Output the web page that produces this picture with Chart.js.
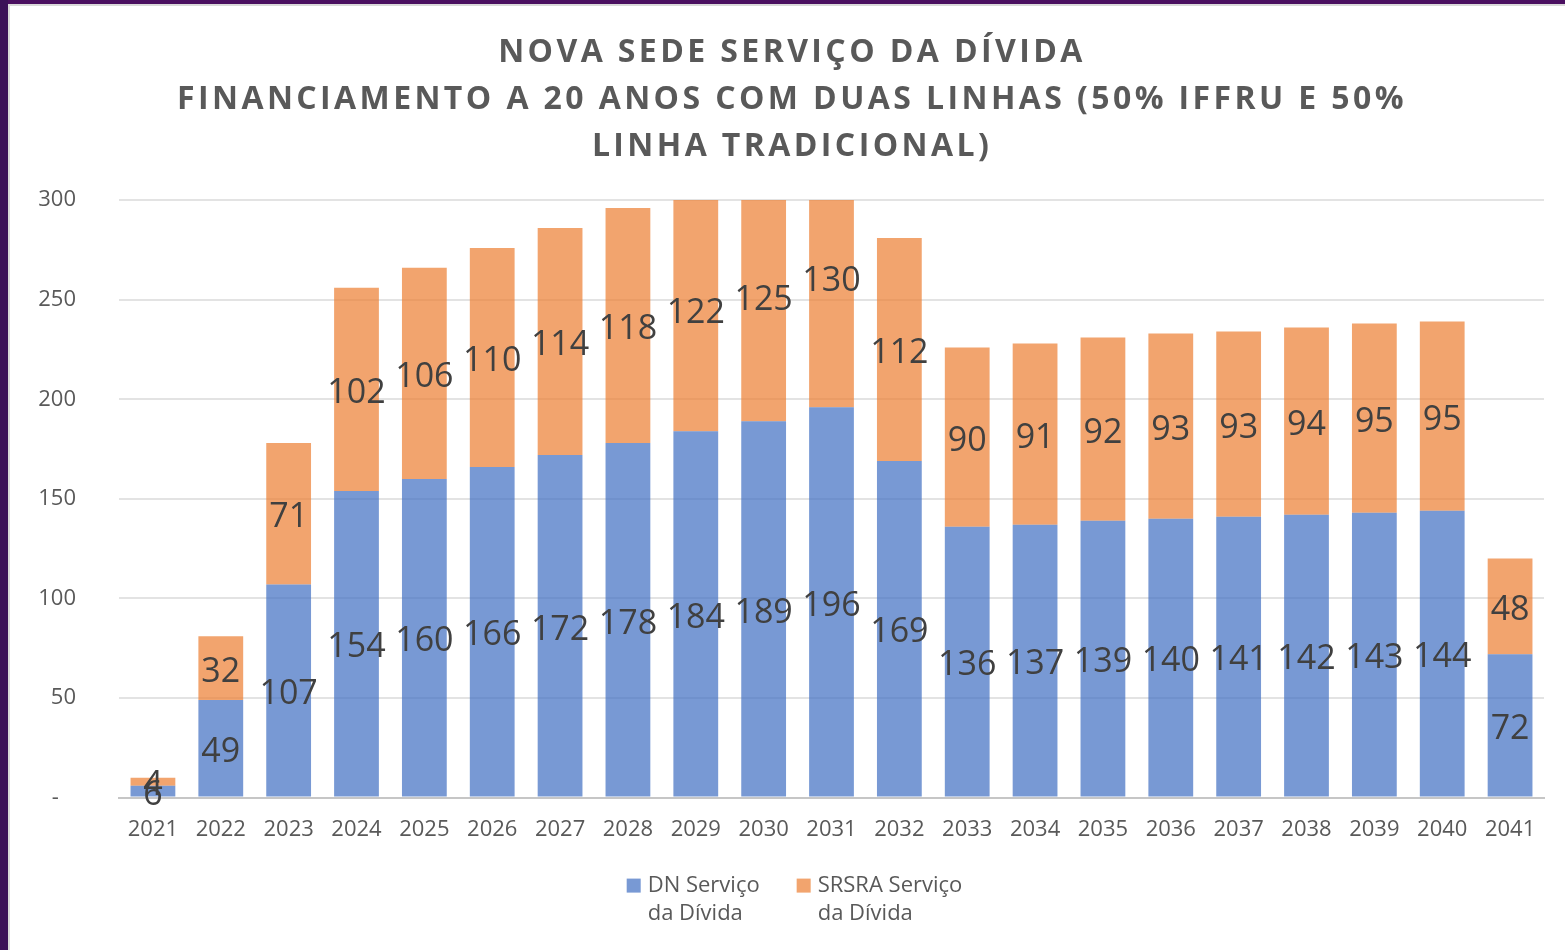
<!DOCTYPE html>
<html>
<head>
<meta charset="utf-8">
<script src="https://cdn.jsdelivr.net/npm/chart.js@4/dist/chart.umd.min.js"></script>
<style>
  html, body { margin: 0; padding: 0; background: #ffffff; }
  #wrap { position: relative; width: 1565px; height: 950px; overflow: hidden; }
  #c { position: absolute; left: 0; top: 0; }
  .bl { position: absolute; left: 0; top: 0; width: 8px; height: 950px; background: #3b1158; }
  .bl2 { position: absolute; left: 8px; top: 4px; width: 2px; height: 946px; background: #d9d9d9; }
  .bt { position: absolute; left: 0; top: 0; width: 1565px; height: 4px; background: #4a0f60; }
  .bt2 { position: absolute; left: 8px; top: 4px; width: 1557px; height: 2px; background: #d9d9d9; }
</style>
</head>
<body>
<div id="wrap">
  <canvas id="c" width="1565" height="950"></canvas>
  <div class="bt"></div><div class="bt2"></div>
  <div class="bl"></div><div class="bl2"></div>
</div>
<script>
const titleLines = [
  'NOVA SEDE SERVIÇO DA DÍVIDA',
  'FINANCIAMENTO A 20 ANOS COM DUAS LINHAS (50% IFFRU E 50%',
  'LINHA TRADICIONAL)'
];
const years = ['2021','2022','2023','2024','2025','2026','2027','2028','2029','2030','2031','2032','2033','2034','2035','2036','2037','2038','2039','2040','2041'];
const dnValues = [6, 49, 107, 154, 160, 166, 172, 178, 184, 189, 196, 169, 136, 137, 139, 140, 141, 142, 143, 144, 72];
const srsraValues = [4, 32, 71, 102, 106, 110, 114, 118, 122, 125, 130, 112, 90, 91, 92, 93, 93, 94, 95, 95, 48];
const seriesNames = [['DN Serviço', 'da Dívida'], ['SRSRA Serviço', 'da Dívida']];
const yTicks = [0, 50, 100, 150, 200, 250, 300];

const FONT = '"Open Sans", sans-serif';

const dataLabels = {
  id: 'dataLabels',
  afterDatasetsDraw(chart) {
    const ctx = chart.ctx;
    ctx.save();
    ctx.font = '34px ' + FONT;
    ctx.fillStyle = '#404040';
    ctx.textAlign = 'center';
    ctx.textBaseline = 'middle';
    chart.data.datasets.forEach((ds, di) => {
      const meta = chart.getDatasetMeta(di);
      meta.data.forEach((el, i) => {
        const p = el.getProps(['x', 'y', 'base'], true);
        ctx.fillText(String(ds.data[i]), p.x, (p.y + p.base) / 2 + 4);
      });
    });
    ctx.restore();
  }
};

const multiLegend = {
  id: 'multiLegend',
  afterDraw(chart) {
    const ctx = chart.ctx;
    ctx.save();
    ctx.font = '22px ' + FONT;
    ctx.textBaseline = 'middle';
    ctx.textAlign = 'left';
    const box = 14, gap = 7, itemGap = 37, lineH = 28;
    const items = chart.data.datasets.map(ds => {
      const lines = ds.label;
      const w = Math.max(...lines.map(l => ctx.measureText(l).width));
      return { lines, w: box + gap + w, color: ds.backgroundColor };
    });
    const total = items.reduce((a, it) => a + it.w, 0) + itemGap * (items.length - 1);
    const cx = (chart.chartArea.left + chart.chartArea.right) / 2 - 37;
    let x = cx - total / 2;
    const y0 = chart.chartArea.bottom + 88;
    items.forEach(it => {
      ctx.fillStyle = it.color;
      ctx.fillRect(x, y0 - box / 2, box, box);
      ctx.fillStyle = '#595959';
      it.lines.forEach((l, k) => ctx.fillText(l, x + box + gap, y0 + k * lineH));
      x += it.w + itemGap;
    });
    ctx.restore();
  }
};

const chart = new Chart(document.getElementById('c'), {
  type: 'bar',
  data: {
    labels: years,
    datasets: [
      { label: seriesNames[0], data: dnValues, backgroundColor: 'rgba(68,114,196,0.72)', barPercentage: 0.66, categoryPercentage: 1.0 },
      { label: seriesNames[1], data: srsraValues, backgroundColor: 'rgba(237,125,49,0.70)', barPercentage: 0.66, categoryPercentage: 1.0 }
    ]
  },
  options: {
    responsive: false,
    animation: false,
    layout: { padding: { left: 10, right: 21, top: 0, bottom: 88 } },
    plugins: {
      title: {
        display: true,
        text: titleLines,
        color: '#595959',
        font: { family: FONT, size: 32, weight: 'bold', lineHeight: 1.47 },
        padding: { top: 29, bottom: 30 }
      },
      legend: { display: false },
      tooltip: { enabled: false }
    },
    scales: {
      x: {
        stacked: true,
        grid: { display: false, drawTicks: false },
        border: { color: '#c6c6c6', width: 2 },
        ticks: { color: '#595959', font: { family: FONT, size: 22 }, padding: 19, maxRotation: 0 }
      },
      y: {
        stacked: true,
        min: 0,
        max: 300,
        afterFit(s) { s.width = 109; },
        afterBuildTicks(s) { s.ticks = yTicks.map(v => ({ value: v })); },
        grid: { color: '#e3e3e3', lineWidth: 2, drawTicks: false },
        border: { display: false },
        ticks: {
          color: '#595959',
          font: { family: FONT, size: 22 },
          padding: 43,
          callback: v => v === 0 ? '-   ' : String(v)
        }
      }
    }
  },
  plugins: [dataLabels, multiLegend]
});

// wide letter spacing on the title, as in the reference
const tb = chart.titleBlock;
if (tb) {
  const origDraw = tb.draw.bind(tb);
  tb.draw = function () {
    const ctx = chart.ctx;
    ctx.save();
    ctx.letterSpacing = '3.4px';
    ctx.translate(15, 0);
    origDraw();
    ctx.restore();
  };
  chart.draw();
}
</script>
</body>
</html>
